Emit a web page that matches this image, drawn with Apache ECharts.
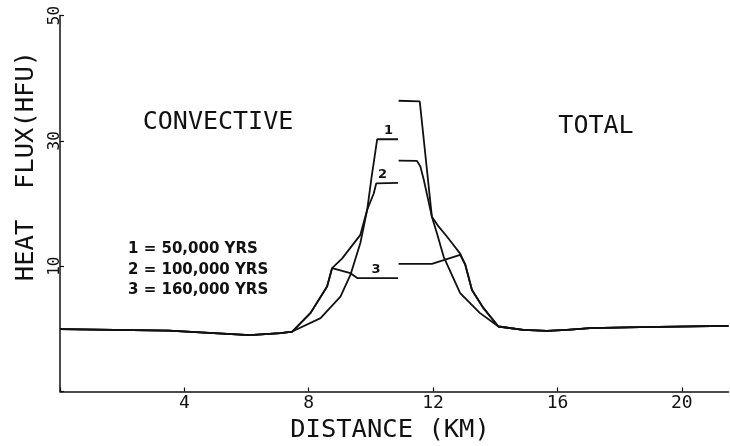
<!DOCTYPE html>
<html>
<head>
<meta charset="utf-8">
<script src="https://cdn.jsdelivr.net/npm/echarts@6/dist/echarts.min.js"></script>
<style>
html,body{margin:0;padding:0;background:#fff;}
#chart{width:730px;height:446px;}
</style>
</head>
<body>
<div id="chart"></div>
<script>
// Axis ticks that carry labels
const xTickLabels = [4, 8, 12, 16, 20];
const yTickLabels = [10, 30, 50];

// Convective (left half) profiles: [distance km, heat flux HFU]
const convective1 = [[0, -0.05], [3.5, -0.3], [6.1, -1.0], [7.1, -0.7], [7.47, -0.43], [8.38, 1.7], [9.02, 5.15], [9.34, 8.6], [9.66, 13.7], [9.88, 19.0], [10.01, 23.8], [10.2, 30.25], [10.87, 30.25]];
const convective2 = [[0, -0.05], [3.5, -0.3], [6.1, -1.0], [7.1, -0.7], [7.47, -0.43], [8.06, 2.55], [8.59, 6.75], [8.75, 9.68], [9.07, 11.2], [9.66, 15.0], [9.88, 19.0], [10.09, 21.6], [10.17, 23.2], [10.87, 23.3]];
const convective3 = [[0, -0.05], [3.5, -0.3], [6.1, -1.0], [7.1, -0.7], [7.47, -0.43], [8.06, 2.55], [8.59, 6.75], [8.75, 9.68], [9.34, 8.88], [9.56, 8.1], [10.87, 8.1]];

// Total (right half) profiles
const total1 = [[10.89, 36.4], [11.57, 36.3], [11.96, 17.9], [12.12, 15.3], [12.34, 11.5], [12.87, 5.7], [13.5, 2.55], [14.1, 0.37], [14.9, -0.16], [15.66, -0.32], [16.3, -0.16], [17.05, 0.1], [18.66, 0.27], [21.5, 0.48]];
const total2 = [[10.89, 26.85], [11.48, 26.8], [11.59, 25.9], [11.7, 23.8], [11.96, 17.9], [12.18, 16.3], [12.45, 14.7], [12.87, 12.0], [13.03, 10.3], [13.25, 6.2], [13.62, 3.3], [14.1, 0.37], [14.9, -0.16], [15.66, -0.32], [16.3, -0.16], [17.05, 0.1], [18.66, 0.27], [21.5, 0.48]];
const total3 = [[10.89, 10.37], [11.96, 10.37], [12.87, 11.8], [13.03, 10.3], [13.25, 6.2], [13.62, 3.3], [14.1, 0.37], [14.9, -0.16], [15.66, -0.32], [16.3, -0.16], [17.05, 0.1], [18.66, 0.27], [21.5, 0.48]];

const ink = '#111';
const mono = '"DejaVu Sans Mono", monospace';
const sans = '"DejaVu Sans", sans-serif';

const chart = echarts.init(document.getElementById('chart'), null, {renderer: 'canvas'});

function lineSeries(data) {
  return {
    type: 'line', data: data, showSymbol: false, symbol: 'none',
    lineStyle: {color: ink, width: 1.8}, animation: false, z: 3
  };
}

const option = {
  backgroundColor: '#fff',
  animation: false,
  grid: {left: 60, right: 1.5, top: 15.5, bottom: 54.5, containLabel: false},
  xAxis: {
    type: 'value', min: 0, max: 21.5, interval: 4,
    axisLine: {onZero: false, lineStyle: {color: ink, width: 1.5}},
    axisTick: {inside: true, length: 4, lineStyle: {color: ink, width: 1.2}},
    splitLine: {show: false},
    axisLabel: {
      color: ink, fontFamily: mono, fontSize: 18, margin: 3, showMaxLabel: false,
      formatter: function (v) { return xTickLabels.indexOf(v) >= 0 ? String(v) : ''; }
    }
  },
  yAxis: {
    type: 'value', min: -10, max: 50, interval: 20,
    axisLine: {onZero: false, lineStyle: {color: ink, width: 1.5}},
    axisTick: {inside: true, length: 4, lineStyle: {color: ink, width: 1.2}},
    splitLine: {show: false},
    axisLabel: {
      color: ink, fontFamily: mono, fontSize: 16, rotate: 90, margin: -3,
      formatter: function (v) { return yTickLabels.indexOf(v) >= 0 ? String(v) : ''; }
    }
  },
  graphic: [
    {type: 'text', x: 218, y: 122, style: {text: 'CONVECTIVE', fill: ink, font: '25px ' + mono, textAlign: 'center', textVerticalAlign: 'middle'}},
    {type: 'text', x: 596, y: 126, style: {text: 'TOTAL', fill: ink, font: '25px ' + mono, textAlign: 'center', textVerticalAlign: 'middle'}},
    {type: 'text', x: 390, y: 430, style: {text: 'DISTANCE (KM)', fill: ink, font: '25.5px ' + mono, textAlign: 'center', textVerticalAlign: 'middle'}},
    {type: 'text', x: 26, y: 166, rotation: Math.PI / 2, style: {text: 'HEAT  FLUX(HFU)', fill: ink, font: '25.5px ' + mono, textAlign: 'center', textVerticalAlign: 'middle'}},
    {type: 'text', x: 128, y: 249.5, style: {text: '1 = 50,000 YRS', fill: ink, font: 'bold 15px ' + sans, textAlign: 'left', textVerticalAlign: 'middle'}},
    {type: 'text', x: 128, y: 270, style: {text: '2 = 100,000 YRS', fill: ink, font: 'bold 15px ' + sans, textAlign: 'left', textVerticalAlign: 'middle'}},
    {type: 'text', x: 128, y: 290.5, style: {text: '3 = 160,000 YRS', fill: ink, font: 'bold 15px ' + sans, textAlign: 'left', textVerticalAlign: 'middle'}},
    {type: 'text', x: 388.5, y: 131, style: {text: '1', fill: ink, font: 'bold 13px ' + sans, textAlign: 'center', textVerticalAlign: 'middle'}},
    {type: 'text', x: 382.5, y: 175, style: {text: '2', fill: ink, font: 'bold 13px ' + sans, textAlign: 'center', textVerticalAlign: 'middle'}},
    {type: 'text', x: 376, y: 270, style: {text: '3', fill: ink, font: 'bold 13px ' + sans, textAlign: 'center', textVerticalAlign: 'middle'}}
  ],
  series: [
    lineSeries(convective1), lineSeries(convective2), lineSeries(convective3),
    lineSeries(total1), lineSeries(total2), lineSeries(total3)
  ]
};
chart.setOption(option);
</script>
</body>
</html>
